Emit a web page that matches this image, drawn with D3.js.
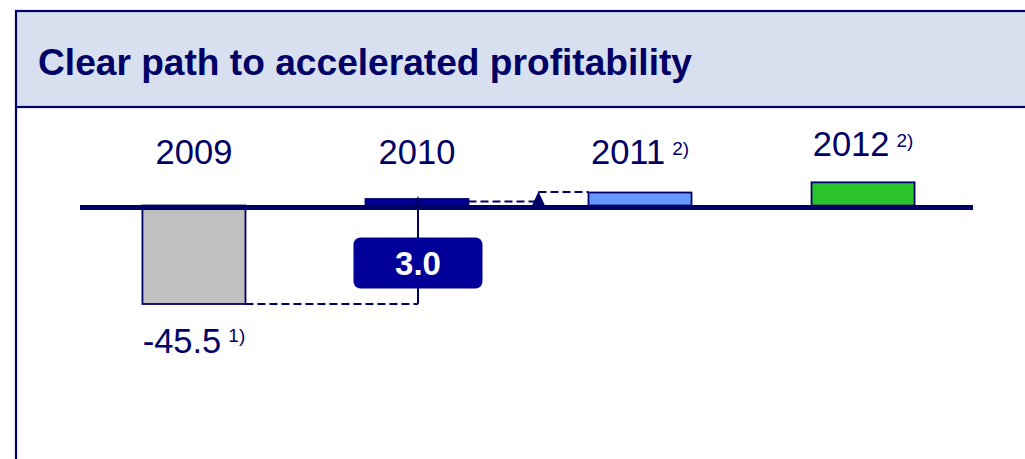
<!DOCTYPE html>
<html>
<head>
<meta charset="utf-8">
<script src="https://cdn.jsdelivr.net/npm/d3@7"></script>
<style>
  html, body { margin: 0; padding: 0; background: #ffffff; }
  svg { display: block; font-family: "Liberation Sans", Arial, sans-serif; }
</style>
</head>
<body>
<svg id="chart" width="1025" height="459"></svg>
<script>
// ---- data ----
const title = "Clear path to accelerated profitability";
const years = ["2009", "2010", "2011", "2012"];
const values = [-45.5, 3.0, 6.0, 10.7];
const yearNotes = ["", "", "2)", "2)"];
const valueLabels = ["-45.5", "3.0", "", ""];
const valueNotes = ["1)", "", "", ""];
const barColors = ["#c0c0c0", "#000099", "#6699ff", "#2ac42a"];

const navy = "#000066";
const svg = d3.select("#chart");

// ---- frame / header ----
svg.append("rect").attr("x", 16).attr("y", 11).attr("width", 1030).attr("height", 96)
  .attr("fill", "#d8e0f0").attr("stroke", navy).attr("stroke-width", 2.2);
svg.append("line").attr("x1", 16).attr("x2", 16).attr("y1", 107).attr("y2", 470)
  .attr("stroke", navy).attr("stroke-width", 2.2);
svg.append("text").attr("x", 38).attr("y", 75)
  .attr("fill", navy).attr("font-weight", "bold").attr("font-size", 37)
  .attr("textLength", 654).attr("lengthAdjust", "spacingAndGlyphs")
  .text(title);

// ---- scales ----
const x = d3.scaleBand().domain(years).range([82, 975]).paddingInner(0.538).paddingOuter(0.271);
const y = d3.scaleLinear().domain([-45.5, 0]).range([304, 205.5]);

// ---- bars ----
svg.selectAll("rect.bar").data(years).enter().append("rect")
  .attr("class", "bar")
  .attr("x", d => x(d))
  .attr("width", x.bandwidth())
  .attr("y", (d, i) => Math.min(y(values[i]), y(0)))
  .attr("height", (d, i) => Math.abs(y(values[i]) - y(0)))
  .attr("fill", (d, i) => barColors[i])
  .attr("stroke", navy).attr("stroke-width", 1.8);

// ---- axis line ----
svg.append("line").attr("x1", 80).attr("x2", 973).attr("y1", y(0) + 2).attr("y2", y(0) + 2)
  .attr("stroke", navy).attr("stroke-width", 5);

// ---- bridge connectors ----
const cx1 = x("2010") + x.bandwidth() / 2 + 1;
// dashed from 2009 bottom to arrow
svg.append("line").attr("x1", x("2009") + x.bandwidth()).attr("x2", cx1)
  .attr("y1", y(values[0])).attr("y2", y(values[0]))
  .attr("stroke", navy).attr("stroke-width", 2).attr("stroke-dasharray", "8,4");
// vertical arrow
svg.append("line").attr("x1", cx1).attr("x2", cx1)
  .attr("y1", y(values[0])).attr("y2", y(values[1]) + 3)
  .attr("stroke", navy).attr("stroke-width", 2);
svg.append("path")
  .attr("d", `M${cx1},${y(values[1]) - 3} L${cx1 - 4.5},${y(0)} L${cx1 + 4.5},${y(0)} Z`)
  .attr("fill", navy);

// dashed from 2010 to second arrow
const cx2 = x("2011") - 50;
svg.append("line").attr("x1", x("2010") + x.bandwidth()).attr("x2", cx2)
  .attr("y1", y(values[1]) + 2.5).attr("y2", y(values[1]) + 2.5)
  .attr("stroke", navy).attr("stroke-width", 2).attr("stroke-dasharray", "8,4");
svg.append("path")
  .attr("d", `M${cx2},${y(values[2]) - 1} L${cx2 - 6.5},${y(0)} L${cx2 + 6.5},${y(0)} Z`)
  .attr("fill", navy);
svg.append("line").attr("x1", cx2).attr("x2", x("2011"))
  .attr("y1", y(values[2]) - 0.5).attr("y2", y(values[2]) - 0.5)
  .attr("stroke", navy).attr("stroke-width", 2).attr("stroke-dasharray", "8,4");

// value box 3.0
const boxW = 129, boxH = 51;
const boxTop = y(0) + 32;
svg.append("rect").attr("x", cx1 - boxW / 2).attr("y", boxTop).attr("width", boxW).attr("height", boxH)
  .attr("rx", 7).attr("fill", "#000099");
svg.append("text").attr("x", cx1).attr("y", boxTop + 37).attr("text-anchor", "middle")
  .attr("fill", "#ffffff").attr("font-weight", "bold").attr("font-size", 33)
  .text(valueLabels[1]);

// ---- year labels ----
years.forEach((yr, i) => {
  const top = Math.min(y(values[i]), y(0));
  const t = svg.append("text")
    .attr("x", x(yr) + x.bandwidth() / 2)
    .attr("y", Math.min(164, top - 26))
    .attr("text-anchor", "middle")
    .attr("fill", navy).attr("font-size", 34.5);
  t.append("tspan").text(yr);
  if (yearNotes[i]) {
    t.append("tspan").attr("font-size", 19).attr("dx", 7).attr("dy", -9).text(yearNotes[i]);
  }
});

// ---- negative value label ----
{
  const t = svg.append("text")
    .attr("x", x("2009") + x.bandwidth() / 2)
    .attr("y", y(values[0]) + 49)
    .attr("text-anchor", "middle")
    .attr("fill", navy).attr("font-size", 34.5);
  t.append("tspan").text(valueLabels[0]);
  t.append("tspan").attr("font-size", 19).attr("dx", 7).attr("dy", -11).text(valueNotes[0]);
}
</script>
</body>
</html>
